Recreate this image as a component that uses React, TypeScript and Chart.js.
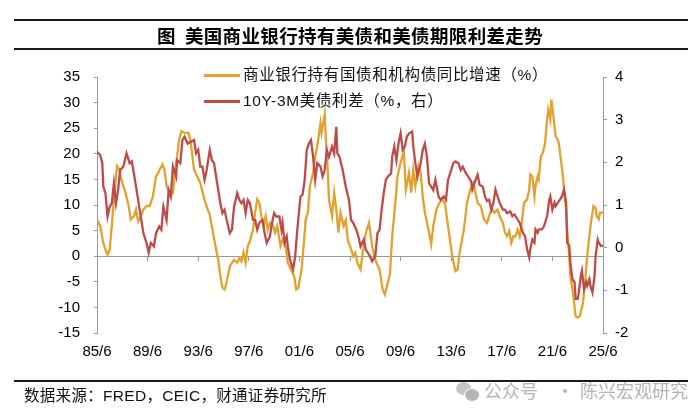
import { useEffect, useRef } from "react"
import { Chart, registerables } from "chart.js"

Chart.register(...registerables)

// x values are months counted from 1985/6
const tickMonths = [0, 48, 96, 144, 192, 240, 288, 336, 384, 432, 480]
const tickLabels = ["85/6", "89/6", "93/6", "97/6", "01/6", "05/6", "09/6", "13/6", "17/6", "21/6", "25/6"]

// 商业银行持有国债和机构债同比增速（%，左轴）
const holdingMonths = [
  0, 3, 6, 9, 10, 12, 14, 16, 19, 21, 23, 27, 30, 32, 35, 37, 39, 41, 44, 47,
  50, 53, 56, 58, 62, 64, 66, 70, 72, 74, 78, 80, 83, 87, 89, 92, 95, 98, 102, 105,
  107, 110, 113, 115, 117, 119, 121, 122, 124, 126, 128, 130, 133, 135, 137, 139, 141, 143, 145, 148,
  150, 152, 154, 156, 158, 160, 162, 164, 167, 169, 171, 174, 176, 179, 181, 184, 187, 189, 191, 194,
  196, 198, 200, 202, 205, 207, 209, 212, 213, 216, 217, 219, 220, 223, 225, 227, 229, 231, 234, 236,
  238, 240, 243, 245, 247, 250, 252, 255, 258, 261, 264, 268, 271, 273, 275, 278, 280, 283, 285, 288,
  291, 293, 296, 298, 300, 302, 305, 307, 309, 311, 315, 317, 319, 322, 324, 327, 330, 333, 337, 340,
  342, 344, 348, 351, 354, 357, 361, 364, 367, 370, 373, 375, 377, 380, 382, 385, 387, 389, 391, 393,
  395, 397, 399, 401, 403, 405, 408, 410, 411, 413, 415, 416, 418, 419, 421, 423, 425, 427, 428, 430,
  431, 433, 435, 437, 438, 440, 442, 443, 445, 446, 448, 449, 451, 453, 454, 456, 458, 461, 463, 465,
  467, 469, 471, 473, 474, 476, 477, 480,
]
const holdingGrowth = [
  7.2, 5.9, 2.6, 0.7, 0.3, 1.3, 5.9, 11, 17.6, 17, 15, 12.4, 9.8, 7.2, 7.8, 9.1, 6.8, 7.5, 9.1, 9.8,
  9.8, 11.7, 15.6, 16.3, 17.9, 16.9, 13.7, 11.7, 12.4, 16.3, 22.8, 24.4, 24.1, 24.1, 22.1, 16.9, 15.6, 14.3, 11, 9.1,
  8.1, 4.6, 1.3, -0.7, -3.9, -6.2, -6.5, -5.9, -3.9, -2, -1.3, -0.7, -1.3, -0.3, -1, 0.7, -1.3, 2, 2.9, 5.2,
  8.5, 11.1, 10.4, 7.8, 5.9, 7.8, 5.2, 6.5, 5.9, 4.6, 5.9, 2, 3.3, 2, -1.3, -2.6, -3.9, -6.5, -6.2, -2.6,
  2, 7.2, 8.5, 13.7, 16.3, 19.5, 21.5, 26, 24.1, 27.7, 23.4, 16.3, 11.1, 7.8, 12.4, 9.1, 4.6, 8.5, 5.9, 7,
  3, 2, 0, 0.7, -1.3, -2.6, 0.7, 4.6, 6.5, 2, -0.7, -2.6, -6.5, -7.5, -5.9, -3.3, 3.9, 10.4, 15.6, 18.2,
  20.5, 13, 16.3, 12.4, 16.9, 13.7, 17.6, 16.3, 11.7, 8.5, 4.6, 2.3, 5.9, 9.1, 10.1, 11.1, 10.4, 5.9, 0, -2.9,
  -2.6, 0.7, 5.2, 10.4, 13, 14.3, 10.4, 9.8, 7.2, 6.5, 8.5, 9.1, 8.5, 9.1, 7.8, 6.5, 4.6, 3.9, 4.9, 2.6,
  3.9, 3.9, 5.2, 3.9, 6.5, 10.4, 11.1, 13, 16, 15.6, 11.7, 13.7, 15.6, 15, 19.5, 20.2, 22.1, 26.7, 28.6, 26.7,
  30.6, 27.3, 23.4, 22.8, 22.1, 18.9, 15.6, 13, 9.1, 5.2, 0, -3.9, -6.5, -9.8, -11.7, -12, -11.7, -9.1, -5.2, 0,
  3.9, 7.2, 9.8, 9.4, 7.8, 7.2, 8.5, 8.5,
]

// 10Y-3M美债利差（%，右轴）
const spreadMonths = [
  0, 3, 5, 6, 8, 10, 12, 14, 16, 18, 20, 22, 25, 28, 31, 33, 35, 37, 39, 42,
  44, 47, 49, 51, 54, 56, 59, 61, 63, 66, 68, 70, 72, 75, 76, 79, 81, 83, 86, 89,
  92, 94, 96, 98, 100, 102, 104, 107, 109, 111, 115, 117, 119, 121, 123, 126, 128, 130, 133, 135,
  137, 139, 141, 143, 145, 148, 150, 152, 154, 157, 159, 161, 164, 166, 168, 170, 173, 175, 176, 178,
  180, 181, 183, 185, 186, 188, 190, 193, 195, 197, 199, 201, 203, 205, 207, 209, 212, 214, 216, 218,
  220, 223, 225, 227, 228, 230, 233, 236, 239, 241, 243, 246, 248, 250, 253, 255, 257, 259, 261, 264,
  266, 268, 270, 272, 274, 276, 279, 280, 282, 284, 286, 288, 290, 292, 294, 296, 299, 300, 302, 304,
  307, 309, 311, 313, 315, 317, 319, 321, 324, 326, 329, 331, 333, 336, 338, 340, 343, 345, 347, 350,
  352, 355, 356, 358, 361, 363, 366, 368, 370, 372, 374, 376, 378, 380, 382, 385, 387, 389, 392, 394,
  396, 399, 401, 404, 406, 408, 410, 411, 413, 415, 416, 418, 419, 422, 424, 427, 429, 430, 432, 434,
  435, 437, 439, 441, 443, 445, 446, 448, 449, 451, 453, 454, 456, 457, 459, 460, 462, 464, 465, 467,
  468, 470, 472, 473, 475, 476, 478, 480,
]
const spreadValues = [
  2.25, 2.17, 1.98, 1.43, 1.28, 0.73, 0.96, 1.04, 1.51, 1.04, 1.35, 1.82, 1.9, 2.21, 1.98, 2.02, 1.74, 1.43, 1.12, 0.65,
  0.34, 0.11, -0.12, 0.11, 0.03, 0.34, 0.5, 0.42, 0.96, 0.65, 1.35, 1.2, 1.9, 1.67, 2.05, 1.98, 2.52, 2.6, 2.44, 2.48,
  2.52, 2.21, 2.29, 1.9, 1.9, 1.59, 1.82, 2.29, 2.05, 1.98, 1.35, 1.04, 0.81, 0.89, 0.65, 0.34, 0.42, 0.96, 1.28, 1.12,
  1.04, 1.12, 0.81, 1.12, 1.04, 0.65, 0.65, 0.42, 0.58, 0.65, 0.34, 0.11, 0.26, 0.58, 0.81, 0.73, 0.73, 0.42, 0.58, 0.11,
  0.26, 0.03, -0.28, -0.44, -0.51, -0.2, 0.42, 1.2, 1.24, 1.59, 2.29, 2.44, 2.52, 2.13, 1.59, 1.98, 1.9, 1.67, 1.82, 2.29,
  2.13, 2.37, 2.21, 2.83, 2.21, 2.13, 1.82, 1.43, 1.12, 0.65, 0.58, 0.42, 0.26, 0.03, 0.19, -0.05, -0.12, -0.2, -0.32, -0.2,
  0.34, 0.42, 0.89, 1.28, 1.59, 1.67, 1.74, 2.13, 2.37, 2.05, 2.44, 2.68, 2.29, 2.37, 2.6, 2.68, 2.72, 2.37, 1.98, 1.67,
  1.98, 2.29, 2.44, 2.13, 1.51, 1.43, 1.35, 1.59, 1.2, 1.12, 1.2, 1.12, 1.59, 1.82, 1.98, 2.02, 1.98, 1.82, 1.9, 1.74,
  1.67, 1.55, 1.36, 1.51, 1.71, 1.47, 1.43, 1.2, 1.09, 1.12, 0.89, 1.05, 1.36, 1.2, 1.05, 0.89, 0.89, 0.81, 0.85, 0.74,
  0.78, 0.66, 0.58, 0.35, 0.27, -0.04, -0.23, -0.04, 0.19, 0.12, 0.43, 0.35, 0.43, 0.43, 0.5, 0.74, 1.12, 1.2, 0.89, 1.05,
  0.97, 1.05, 1.12, 1.2, 1.36, 1.05, 0.12, 0.04, -0.35, -0.74, -0.81, -1.2, -1.2, -1.05, -0.66, -0.54, -0.98, -0.81, -0.89, -0.74,
  -0.89, -1.05, -0.66, -0.19, 0.19, 0.12, 0.04, 0.05,
]

const GOLD = "#E3A12F"
const RED = "#BE4B48"
const AXIS = "#9a9a9a"
const TICK_FONT = { family: "'Liberation Sans', Arial, sans-serif", size: 15 }
const CJK = "'Liberation Sans', Arial, 'Noto Sans CJK SC', sans-serif"

const setMonthTicks = (scale: any) => {
  scale.ticks = tickMonths.map((value) => ({ value }))
}

function SpreadChart() {
  const chartRef = useRef<HTMLCanvasElement>(null)
  const chartInstance = useRef<Chart | null>(null)

  useEffect(() => {
    if (!chartRef.current) return
    if (chartInstance.current) chartInstance.current.destroy()

    chartInstance.current = new Chart(chartRef.current, {
      type: "line",
      data: {
        datasets: [
          {
            label: "商业银行持有国债和机构债同比增速（%）",
            data: holdingMonths.map((m, i) => ({ x: m, y: holdingGrowth[i] })),
            borderColor: GOLD,
            borderWidth: 2.3,
            pointRadius: 0,
            yAxisID: "y",
            order: 1,
          },
          {
            label: "10Y-3M美债利差（%，右）",
            data: spreadMonths.map((m, i) => ({ x: m, y: spreadValues[i] })),
            borderColor: RED,
            borderWidth: 2.3,
            pointRadius: 0,
            yAxisID: "y1",
            order: 0,
          },
        ],
      },
      options: {
        animation: false,
        responsive: true,
        maintainAspectRatio: false,
        layout: { padding: { left: 57, right: 67, top: 77, bottom: 57 } },
        plugins: { legend: { display: false }, tooltip: { enabled: false } },
        scales: {
          x: {
            type: "linear",
            min: 0,
            max: 480,
            afterBuildTicks: setMonthTicks,
            afterFit: (s: any) => {
              s.height = 30
            },
            ticks: {
              callback: (_v: any, i: number) => tickLabels[i],
              padding: 10,
              maxRotation: 0,
              autoSkip: false,
              color: "#000",
              font: TICK_FONT,
            },
            grid: { display: false, drawTicks: false },
            border: { display: false },
          },
          x2: {
            type: "linear",
            axis: "x",
            position: { y: 0 },
            min: 0,
            max: 480,
            afterBuildTicks: setMonthTicks,
            ticks: { display: false },
            grid: { drawOnChartArea: false, tickLength: 4, color: AXIS },
            border: { color: AXIS },
          },
          y: {
            position: "left",
            min: -15,
            max: 35,
            afterFit: (s: any) => {
              s.width = 40
            },
            ticks: { stepSize: 5, padding: 14, color: "#000", font: TICK_FONT },
            grid: { drawOnChartArea: false, tickLength: 3, color: AXIS },
            border: { color: AXIS },
          },
          y1: {
            position: "right",
            min: -2,
            max: 4,
            afterFit: (s: any) => {
              s.width = 30
            },
            ticks: { stepSize: 1, padding: 8, color: "#000", font: TICK_FONT },
            grid: { drawOnChartArea: false, tickLength: 4, color: AXIS },
            border: { color: AXIS },
          },
        },
      } as any,
    })

    return () => {
      if (chartInstance.current) {
        chartInstance.current.destroy()
        chartInstance.current = null
      }
    }
  }, [])

  return (
    <div style={{ position: "absolute", left: 0, top: 0, width: 700, height: 420 }}>
      <canvas ref={chartRef} />
    </div>
  )
}

const rule = (top: number) => (
  <div style={{ position: "absolute", left: 14, width: 674, top, height: 2, background: "#1a1a1a" }} />
)

function LegendRow({ top, color, text }: { top: number; color: string; text: string }) {
  return (
    <>
      <div style={{ position: "absolute", left: 204, top: top - 1.5, width: 36, height: 3, background: color }} />
      <div
        style={{
          position: "absolute",
          left: 243,
          top: top - 11,
          height: 22,
          lineHeight: "22px",
          fontSize: 15.5,
          letterSpacing: 0.65,
          fontFamily: CJK,
          color: "#111",
          whiteSpace: "nowrap",
        }}
      >
        {text}
      </div>
    </>
  )
}

const watermark = {
  position: "absolute" as const,
  top: 378,
  height: 24,
  lineHeight: "24px",
  fontSize: 18,
  fontFamily: "'Noto Sans CJK SC', sans-serif",
  color: "#b3b3b3",
  whiteSpace: "nowrap" as const,
}

export default function App() {
  return (
    <div style={{ position: "absolute", left: 0, top: 0, width: 700, height: 420, background: "#fff", overflow: "hidden" }}>
      <SpreadChart />
      {rule(19)}
      <div
        style={{
          position: "absolute",
          left: 0,
          width: 700,
          top: 23,
          height: 24,
          lineHeight: "24px",
          textAlign: "center",
          fontSize: 18.5,
          letterSpacing: 0.35,
          fontWeight: 700,
          fontFamily: "'Noto Sans CJK SC', sans-serif",
          color: "#000",
          whiteSpace: "pre",
        }}
      >
        {"图  美国商业银行持有美债和美债期限利差走势"}
      </div>
      {rule(48)}
      <LegendRow top={75} color={GOLD} text="商业银行持有国债和机构债同比增速（%）" />
      <LegendRow top={101} color={RED} text="10Y-3M美债利差（%，右）" />
      {rule(380)}
      <div
        style={{
          position: "absolute",
          left: 24,
          top: 385,
          height: 22,
          lineHeight: "22px",
          fontSize: 15.5,
          letterSpacing: 0.3,
          fontFamily: CJK,
          color: "#111",
          whiteSpace: "nowrap",
        }}
      >
        数据来源：FRED，CEIC，财通证券研究所
      </div>
      <div style={{ position: "absolute", left: 456, top: 382, width: 24, height: 20 }}>
        <div style={{ position: "absolute", left: 0, top: 0, width: 15, height: 13, borderRadius: "50%", background: "#c4c4c4" }} />
        <div style={{ position: "absolute", left: 8, top: 6, width: 14, height: 12, borderRadius: "50%", background: "#b5b5b5", border: "1px solid #fff" }} />
      </div>
      <div style={{ ...watermark, left: 484 }}>公众号</div>
      <div style={{ ...watermark, left: 556 }}>·</div>
      <div style={{ ...watermark, left: 580 }}>陈兴宏观研究</div>
    </div>
  )
}
